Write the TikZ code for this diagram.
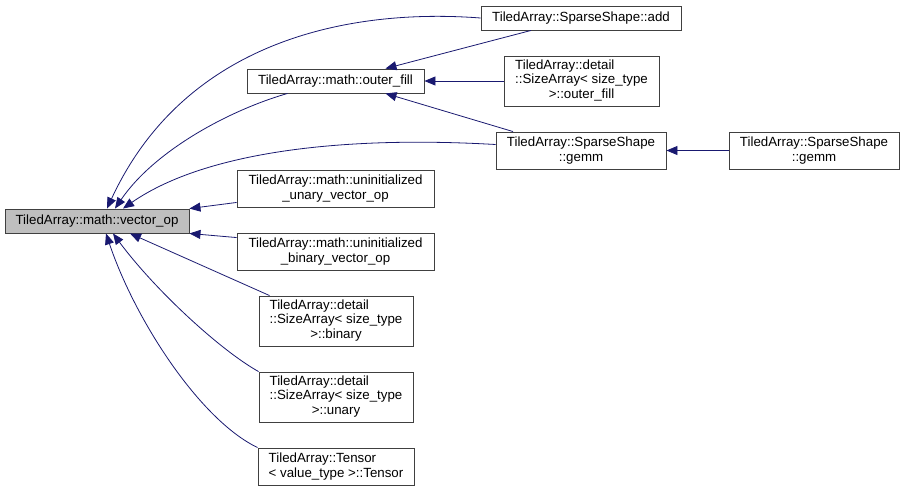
\documentclass[tikz,border=0pt]{standalone}
\usepackage{fontspec}
\setmainfont{Liberation Sans}
\usetikzlibrary{arrows.meta}
\definecolor{edgeblue}{RGB}{25,25,112}
\definecolor{focusgray}{RGB}{191,191,191}
\begin{document}
\begin{tikzpicture}[x=1pt,y=-1pt,
  box/.style={draw=black!75, line width=0.9pt, inner sep=0pt, minimum height=24pt,
    align=center, font=\fontsize{13.3}{14.5}\selectfont},
  tall/.style={box, minimum height=37pt},
  taller/.style={box, minimum height=50pt},
  edge/.style={edgeblue, line width=0.8pt, -{Triangle[length=11pt,width=9pt]}}]
  \useasboundingbox (0,0) rectangle (904,491);

  %% the function itself
  \node[box, fill=focusgray, minimum width=184pt] (vop) at (97,221) {TiledArray::math::vector\_op};

  %% callers, second column
  \node[box, minimum width=177pt] (ofill) at (335.5,81) {TiledArray::math::outer\_fill};
  \node[tall, minimum width=197pt] (uun) at (335.5,188.5) {TiledArray::math::uninitialized\\\_unary\_vector\_op};
  \node[tall, minimum width=197pt] (ubin) at (335.5,251.5) {TiledArray::math::uninitialized\\\_binary\_vector\_op};
  \node[taller, minimum width=154pt] (sabin) at (336,321)
    {\begin{tabular}{@{}l@{}}TiledArray::detail\\::SizeArray< size\_type\\\multicolumn{1}{@{}c@{}}{>::binary}\end{tabular}};
  \node[taller, minimum width=154pt] (saun) at (336,397)
    {\begin{tabular}{@{}l@{}}TiledArray::detail\\::SizeArray< size\_type\\\multicolumn{1}{@{}c@{}}{>::unary}\end{tabular}};
  \node[tall, minimum width=156pt, align=left] (tens) at (336,466.5) {TiledArray::Tensor\\< value\_type >::Tensor};

  %% third column
  \node[box, minimum width=200pt] (add) at (581,18) {TiledArray::SparseShape::add};
  \node[taller, minimum width=155pt] (saof) at (581.5,81)
    {\begin{tabular}{@{}l@{}}TiledArray::detail\\::SizeArray< size\_type\\\multicolumn{1}{@{}c@{}}{>::outer\_fill}\end{tabular}};
  \node[tall, minimum width=170pt] (gemm) at (581,150.5) {TiledArray::SparseShape\\::gemm};

  %% fourth column
  \node[tall, minimum width=170pt] (gemmb) at (814,150.5) {TiledArray::SparseShape\\::gemm};

  %% edges into vector_op
  \draw[edge] (add.west) .. controls (350,8) and (185,40) .. ([xshift=10pt]vop.north);
  \draw[edge] ([xshift=-48pt]ofill.south) .. controls (230,110) and (155,150) .. ([xshift=18pt]vop.north);
  \draw[edge] ([yshift=6pt]gemm.west) .. controls (330,135) and (200,155) .. ([xshift=26pt]vop.north);
  \draw[edge] ([yshift=5pt]uun.south west) -- (vop.north east);
  \draw[edge] ([yshift=-5pt]ubin.north west) -- (vop.south east);
  \draw[edge] ([xshift=11pt]sabin.north west) -- ([xshift=33pt]vop.south);
  \draw[edge] (saun.north west) .. controls (220,350) and (155,290) .. ([xshift=16pt]vop.south);
  \draw[edge] (tens.north west) .. controls (200,420) and (135,320) .. ([xshift=9pt]vop.south);

  %% edges into outer_fill
  \draw[edge] ([xshift=-50pt]add.south) -- ([xshift=50pt]ofill.north);
  \draw[edge] (saof.west) -- (ofill.east);
  \draw[edge] ([xshift=-68pt]gemm.north) -- ([xshift=50pt]ofill.south);

  %% gemm
  \draw[edge] (gemmb.west) -- (gemm.east);
\end{tikzpicture}
\end{document}
